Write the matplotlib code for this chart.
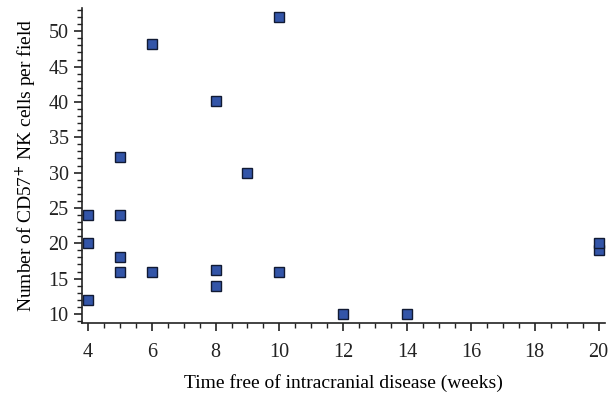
import numpy as np
import matplotlib.pyplot as plt
from matplotlib.ticker import MultipleLocator

# weeks free of disease vs CD57+ NK cell count
weeks = [4, 4, 4, 5, 5, 5, 5, 6, 6, 8, 8, 8, 9, 10, 10, 12, 14, 20, 20]
cells = [12, 20, 24, 16, 18, 24, 32.2, 16, 48.2, 14, 16.2, 40.2, 30, 16, 52, 10, 10, 19, 20]

plt.rcParams['font.family'] = ['Liberation Serif', 'DejaVu Serif']

fig = plt.figure(figsize=(6.11, 3.96), dpi=100)
ax = fig.add_axes([0.134, 0.184, 0.856, 0.796])

ax.plot(weeks, cells, 's', color='#3355a8', markeredgecolor='#111a33',
        markeredgewidth=1.0, markersize=7.5, clip_on=False)

ax.set_xlim(3.81, 20.2)
ax.set_ylim(8.7, 53.3)
ax.xaxis.set_major_locator(MultipleLocator(2))
ax.xaxis.set_minor_locator(MultipleLocator(0.5))
ax.yaxis.set_major_locator(MultipleLocator(5))
ax.yaxis.set_minor_locator(MultipleLocator(1))
ax.set_xticks(np.arange(4, 21, 2))

for s in ['top', 'right']:
    ax.spines[s].set_visible(False)
for s in ['left', 'bottom']:
    ax.spines[s].set_linewidth(1.2)
    ax.spines[s].set_color('#222222')

ax.tick_params(which='major', length=6, width=1.2, labelsize=14.5, colors='#222222')
ax.tick_params(which='minor', length=3.5, width=1.0, colors='#222222')
ax.tick_params(axis='x', pad=8)

ax.set_xlabel('Time free of intracranial disease (weeks)', fontsize=14, labelpad=9)
ax.set_ylabel('Number of CD57$^{+}$ NK cells per field', fontsize=14, labelpad=7)

fig.savefig('out.png', dpi=100)
